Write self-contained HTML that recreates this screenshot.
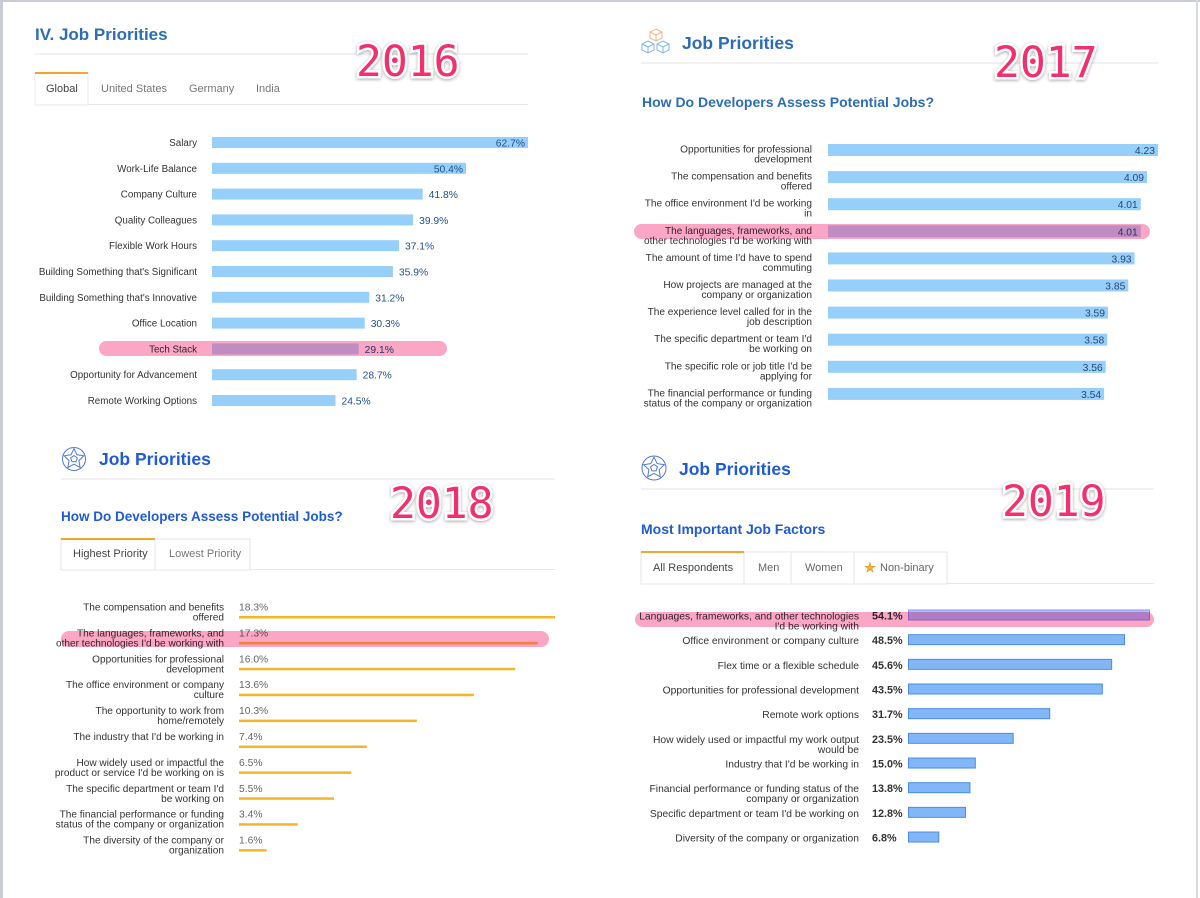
<!DOCTYPE html>
<html><head><meta charset="utf-8">
<style>
html,body{margin:0;padding:0;background:#fff;}
svg{display:block;font-family:"Liberation Sans",Arial,sans-serif;}
.yr{font-family:"DejaVu Sans Mono",monospace;font-size:43px;fill:#f2306e;stroke:#fff;stroke-width:5px;paint-order:stroke;filter:drop-shadow(0px 1px 1.5px rgba(0,0,0,0.35));}
.pill{mix-blend-mode:multiply;}
</style></head>
<body>
<svg id="chart" width="1200" height="898" viewBox="0 0 1200 898" xmlns="http://www.w3.org/2000/svg">
<rect x="0" y="0" width="1200" height="898" fill="#fff"/>
<rect x="0" y="0" width="3" height="898" fill="#c9cdd3"/>
<rect x="0" y="0" width="1200" height="2" fill="#c9cdd3"/>
<rect x="1196" y="0" width="2" height="898" fill="#d8dbe0"/>
<g id="layer"></g>
</svg>
<script>
// ---- 2016 data ----
const cats2016 = ["Salary","Work-Life Balance","Company Culture","Quality Colleagues","Flexible Work Hours","Building Something that's Significant","Building Something that's Innovative","Office Location","Tech Stack","Opportunity for Advancement","Remote Working Options"];
const vals2016 = [62.7,50.4,41.8,39.9,37.1,35.9,31.2,30.3,29.1,28.7,24.5];
const tabs2016 = ["Global","United States","Germany","India"];
// ---- 2017 data ----
const cats2017 = [["Opportunities for professional","development"],["The compensation and benefits","offered"],["The office environment I'd be working","in"],["The languages, frameworks, and","other technologies I'd be working with"],["The amount of time I'd have to spend","commuting"],["How projects are managed at the","company or organization"],["The experience level called for in the","job description"],["The specific department or team I'd","be working on"],["The specific role or job title I'd be","applying for"],["The financial performance or funding","status of the company or organization"]];
const vals2017 = [4.23,4.09,4.01,4.01,3.93,3.85,3.59,3.58,3.56,3.54];
// ---- 2018 data ----
const cats2018 = [["The compensation and benefits","offered"],["The languages, frameworks, and","other technologies I'd be working with"],["Opportunities for professional","development"],["The office environment or company","culture"],["The opportunity to work from","home/remotely"],["The industry that I'd be working in"],["How widely used or impactful the","product or service I'd be working on is"],["The specific department or team I'd","be working on"],["The financial performance or funding","status of the company or organization"],["The diversity of the company or","organization"]];
const vals2018 = [18.3,17.3,16.0,13.6,10.3,7.4,6.5,5.5,3.4,1.6];
const tabs2018 = ["Highest Priority","Lowest Priority"];
// ---- 2019 data ----
const cats2019 = [["Languages, frameworks, and other technologies","I'd be working with"],["Office environment or company culture"],["Flex time or a flexible schedule"],["Opportunities for professional development"],["Remote work options"],["How widely used or impactful my work output","would be"],["Industry that I'd be working in"],["Financial performance or funding status of the","company or organization"],["Specific department or team I'd be working on"],["Diversity of the company or organization"]];
const vals2019 = [54.1,48.5,45.6,43.5,31.7,23.5,15.0,13.8,12.8,6.8];
const tabs2019 = ["All Respondents","Men","Women","Non-binary"];

const NS="http://www.w3.org/2000/svg";
const layer=document.getElementById('layer');
function mk(tag,attrs,parent){const e=document.createElementNS(NS,tag);for(const k in attrs)e.setAttribute(k,attrs[k]);(parent||layer).appendChild(e);return e;}
function txt(x,y,s,attrs,parent){const e=mk('text',Object.assign({x:x,y:y},attrs),parent);e.textContent=s;return e;}

const x2016=v=>v*5.04, x2017=v=>v*78, x2018=v=>v*17.27, x2019=v=>v*4.455;
const PILL='#fba6c4';

// ===== 2016 =====
let e;
e=txt(35,40,"IV. Job Priorities",{'font-size':17,'font-weight':'bold',fill:'#2c6db5'});


e=mk('line',{x1:35,y1:54,x2:528,y2:54,stroke:'#e3e3e3','stroke-width':1});


e=mk('line',{x1:35,y1:104.5,x2:528,y2:104.5,stroke:'#e6e6e6','stroke-width':1});


e=mk('rect',{x:35,y:73,width:53,height:32,fill:'#fff',stroke:'#eaeaea'});


e=mk('rect',{x:35,y:72,width:53,height:2,fill:'#f0a732'});


[46,101,189,256].forEach((tx,i)=>{
  const t=txt(tx,92,tabs2016[i],{'font-size':11,fill:i===0?'#444':'#777'});
  
  
});
cats2016.forEach((c,i)=>{
  const cy=142.5+i*25.8, w=x2016(vals2016[i]);
  const hl=c==="Tech Stack";
  const l=txt(197,cy+3.5,c,{'font-size':9.8,fill:'#333','text-anchor':'end'});
  
  
  const b=mk('rect',{x:212,y:cy-5.5,width:w,height:11,fill:hl?'#c3d9fd':'#95cffa'});
  
  
  const inside=w>230;
  const v=txt(inside?212+w-3:212+w+6,cy+4,vals2016[i].toFixed(1)+'%',{'font-size':10.3,fill:'#1f4f8f','text-anchor':inside?'end':'start'});
  
  
});
e=mk('rect',{x:99,y:341,width:348,height:15,rx:7.5,fill:PILL,class:'pill'});


e=txt(356,76,"2016",{class:'yr'});



// ===== 2017 =====
const cube=(cx,cy,col)=>{const s=6;const g=mk('g',{fill:'none',stroke:col,'stroke-width':1});
  mk('polygon',{points:`${cx},${cy-s} ${cx+s},${cy-s/2} ${cx+s},${cy+s/2} ${cx},${cy+s} ${cx-s},${cy+s/2} ${cx-s},${cy-s/2}`},g);
  mk('polyline',{points:`${cx-s},${cy-s/2} ${cx},${cy} ${cx+s},${cy-s/2}`},g);
  mk('line',{x1:cx,y1:cy,x2:cx,y2:cy+s},g);return g;};
e=cube(656,35,'#f0b484');


e=cube(648,47,'#7fb7e8');


e=cube(663,47,'#7fb7e8');


e=txt(682,49,"Job Priorities",{'font-size':17.5,'font-weight':'bold',fill:'#2c6db5'});


e=mk('line',{x1:641,y1:63,x2:1158,y2:63,stroke:'#e3e3e3','stroke-width':1});


e=txt(642,107,"How Do Developers Assess Potential Jobs?",{'font-size':14,'font-weight':'bold',fill:'#2c6db5'});


cats2017.forEach((c,i)=>{
  const by=144+i*27.1, w=x2017(vals2017[i]);
  const hl=i===3;
  c.forEach((ln,j)=>{const l=txt(812,by+8.5+j*10,ln,{'font-size':10.1,fill:'#333','text-anchor':'end'});
    
    });
  const b=mk('rect',{x:828,y:by,width:w,height:12,fill:hl?'#c3d9fd':'#95cffa'});
  
  
  const v=txt(828+w-3,by+10,vals2017[i].toFixed(2),{'font-size':10.3,fill:'#2a4674','text-anchor':'end'});
  
  
});
e=mk('rect',{x:634,y:224,width:516,height:15,rx:7.5,fill:PILL,class:'pill'});


e=txt(994,77,"2017",{class:'yr'});



function starIcon(cx,cy,r){const g=mk('g',{fill:'none',stroke:'#4f78d6','stroke-width':1});
  mk('circle',{cx:cx,cy:cy,r:r},g);
  let p=[],q=[];for(let k=0;k<5;k++){const a=-Math.PI/2+k*2*Math.PI/5;p.push((cx+r*0.9*Math.cos(a)).toFixed(1)+','+(cy+r*0.9*Math.sin(a)).toFixed(1));
   const a2=a+Math.PI/5;p.push((cx+r*0.45*Math.cos(a2)).toFixed(1)+','+(cy+r*0.45*Math.sin(a2)).toFixed(1));
   q.push((cx+r*0.3*Math.cos(a)).toFixed(1)+','+(cy+r*0.3*Math.sin(a)).toFixed(1));}
  mk('polygon',{points:p.join(' ')},g);mk('polygon',{points:q.join(' ')},g);return g;}

// ===== 2018 =====
e=starIcon(74,459,11.5);


e=txt(99,465,"Job Priorities",{'font-size':17.5,'font-weight':'bold',fill:'#1f5bd3'});


e=mk('line',{x1:61,y1:479,x2:555,y2:479,stroke:'#e3e3e3','stroke-width':1});


e=txt(61,521,"How Do Developers Assess Potential Jobs?",{'font-size':13.5,'font-weight':'bold',fill:'#1f5bd3'});


e=mk('line',{x1:61,y1:569.5,x2:555,y2:569.5,stroke:'#e6e6e6','stroke-width':1});


[[61,94,73],[155,95,169]].forEach((t,i)=>{
  const r=mk('rect',{x:t[0],y:539,width:t[1],height:31,fill:'#fff',stroke:'#e6e6e6'});
  
  
  const s=txt(t[2],557,tabs2018[i],{'font-size':11,fill:i===0?'#444':'#777'});
  
  
});
e=mk('rect',{x:61,y:538,width:94,height:2,fill:'#f0a732'});


cats2018.forEach((c,i)=>{
  const r=607+i*25.9, w=x2018(vals2018[i]);
  c.forEach((ln,j)=>{const l=txt(224,r+3.5+j*10,ln,{'font-size':10.1,fill:'#333','text-anchor':'end'});
    
    });
  const v=txt(239,r+3.5,vals2018[i].toFixed(1)+'%',{'font-size':10.3,fill:'#666'});
  
  
  const b=mk('rect',{x:239,y:r+9,width:w,height:2.5,fill:i===1?'#f4c54b':'#f5b52a'});
  
  
});
e=mk('rect',{x:61,y:631,width:488,height:16,rx:8,fill:PILL,class:'pill'});


e=txt(390,518,"2018",{class:'yr'});



// ===== 2019 =====
e=starIcon(654,468,12);


e=txt(679,475,"Job Priorities",{'font-size':17.5,'font-weight':'bold',fill:'#1f5bd3'});


e=mk('line',{x1:641,y1:489,x2:1154,y2:489,stroke:'#e3e3e3','stroke-width':1});


e=txt(641,534,"Most Important Job Factors",{'font-size':14,'font-weight':'bold',fill:'#1f5bd3'});


e=mk('line',{x1:641,y1:583.5,x2:1154,y2:583.5,stroke:'#e6e6e6','stroke-width':1});


[[641,103,653],[744,47,758],[791,63,805],[854,93,880]].forEach((t,i)=>{
  const r=mk('rect',{x:t[0],y:552,width:t[1],height:32,fill:'#fff',stroke:'#e6e6e6'});
  
  
  const s=txt(t[2],571,tabs2019[i],{'font-size':11,fill:i===0?'#444':'#666'});
  
  
});
e=mk('rect',{x:641,y:551,width:103,height:2,fill:'#f0a732'});


e=txt(870,572,"★",{'font-size':13,fill:'#f5b324','text-anchor':'middle',stroke:'#e08a20','stroke-width':0.5});


cats2019.forEach((c,i)=>{
  const r=616+i*24.67, w=x2019(vals2019[i]);
  c.forEach((ln,j)=>{const l=txt(859,r+3.5+j*10,ln,{'font-size':10.3,fill:'#333','text-anchor':'end'});
    
    });
  const v=txt(872,r+3.5,vals2019[i].toFixed(1)+'%',{'font-size':10.8,'font-weight':'bold',fill:'#333'});
  
  
  const b=mk('rect',{x:908.5,y:r-6,width:w,height:10,fill:i===0?'#b3c0ff':'#82b6f6',stroke:i===0?'#8c93f8':'#4a8de6','stroke-width':1});
  
  
});
e=mk('rect',{x:635,y:612,width:519,height:15,rx:7.5,fill:PILL,class:'pill'});


e=txt(1002,516,"2019",{class:'yr'});


</script>
</body></html>
